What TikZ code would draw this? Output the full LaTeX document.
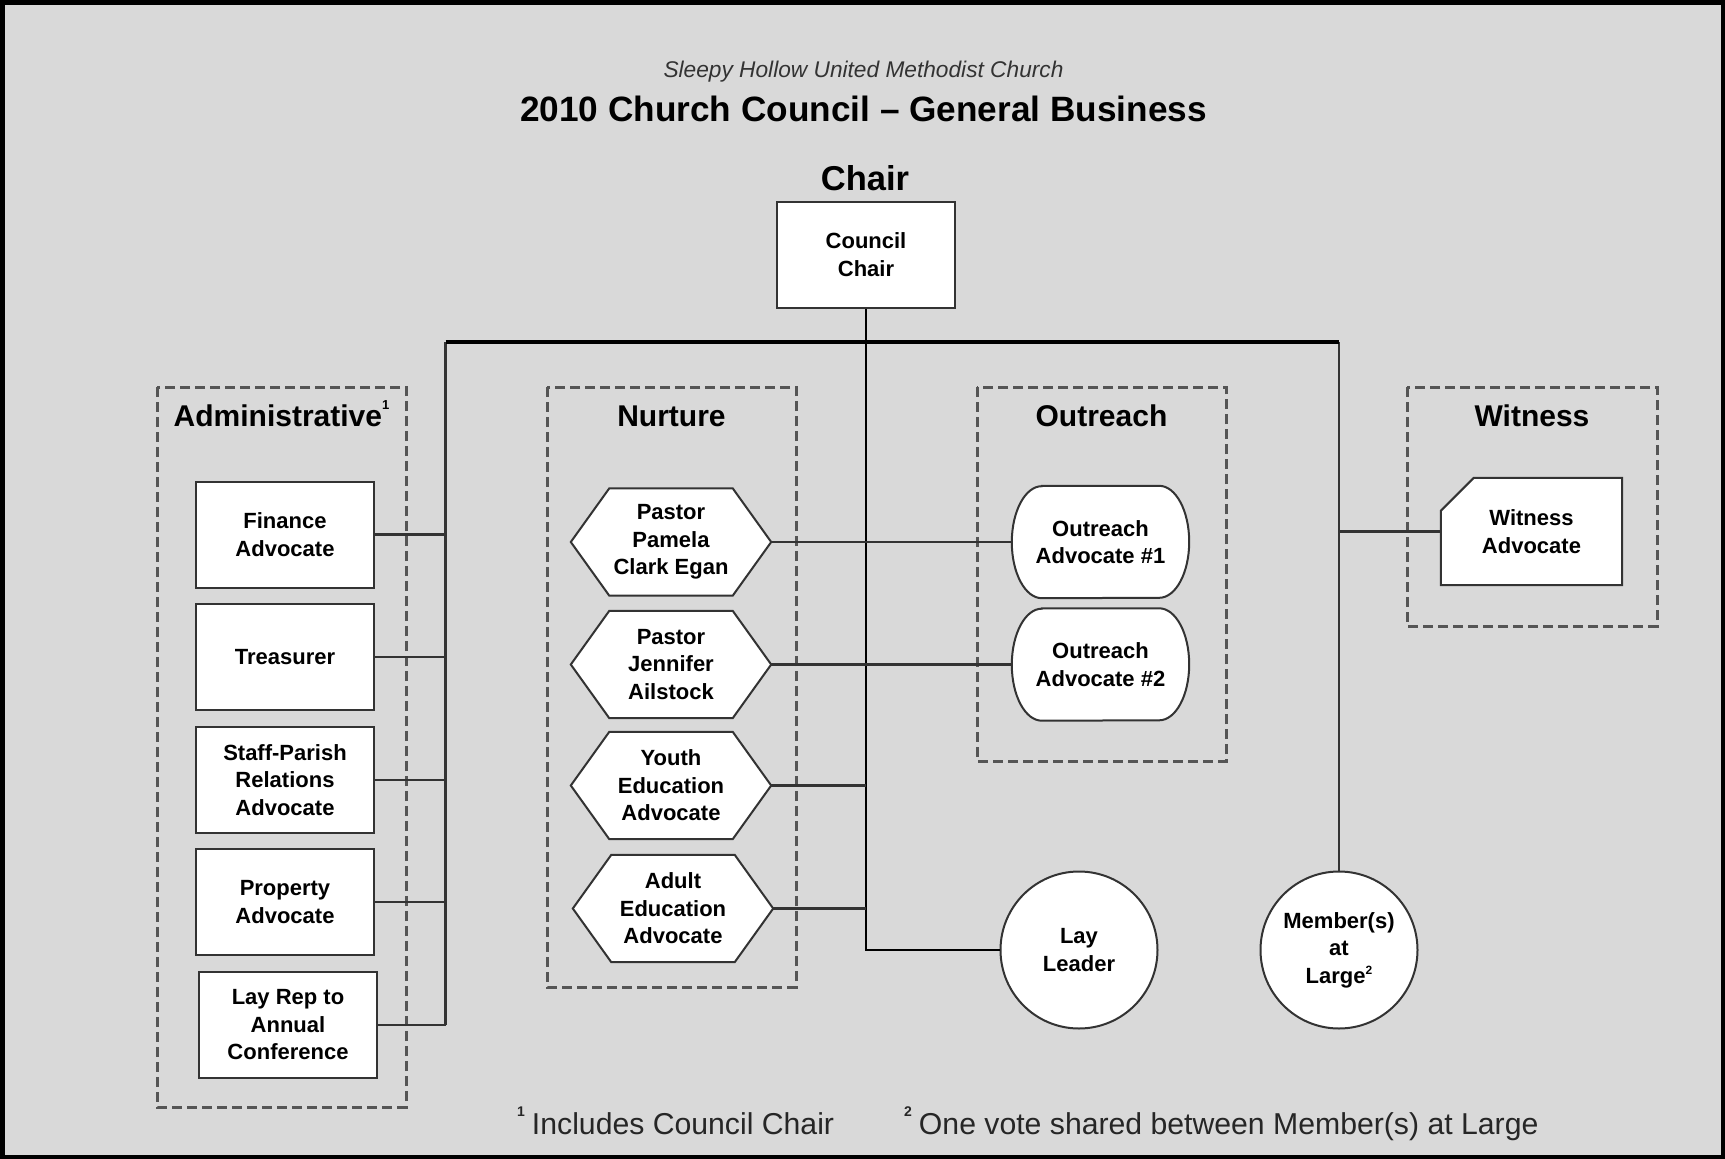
\documentclass[tikz,border=0pt]{standalone}
\usepackage{fontspec}
\setmainfont{Liberation Sans}
\usetikzlibrary{calc}
\pgfdeclarelayer{bglayer}
\pgfsetlayers{bglayer,main}
\definecolor{bggray}{HTML}{D9D9D9}
\definecolor{linegray}{HTML}{333333}
\definecolor{dashgray}{HTML}{555555}
\definecolor{subgray}{HTML}{333333}
\newcommand{\supmark}[3]{\smash{\raisebox{#1}{\fontsize{#2}{#2}\selectfont\bfseries #3}}}
\begin{document}
\begin{tikzpicture}[x=1pt,y=1pt,
  txt/.style={font=\fontsize{22}{27.5}\selectfont\bfseries, align=center, text=black},
  boxn/.style={txt, draw=linegray, line width=2pt, fill=white, minimum width=178pt, minimum height=106pt, inner sep=0pt},
  hexn/.style={txt, minimum width=200pt, minimum height=107pt, inner sep=0pt},
  outn/.style={txt, minimum width=177pt, minimum height=112pt, inner sep=0pt},
  witn/.style={txt, minimum width=181pt, minimum height=107pt, inner sep=0pt},
  circn/.style={txt, circle, draw=linegray, line width=2pt, fill=white, minimum size=157pt, inner sep=0pt},
  shapeline/.style={draw=linegray, line width=2pt, fill=white, line join=miter},
  grp/.style={draw=dashgray, line width=3pt, dash pattern=on 10pt off 5pt},
  grptitle/.style={font=\fontsize{30}{36}\selectfont\bfseries, inner sep=0pt, anchor=base},
  conn/.style={draw=linegray, line width=2.2pt},
  busline/.style={draw=black, line width=4pt},
  trunkline/.style={draw=black, line width=2.4pt},
  foot/.style={font=\fontsize{30.2}{35}\selectfont, anchor=base west, inner sep=0pt, text=black!85}
]
\useasboundingbox (0,0) rectangle (1725,-1159);
\begin{pgfonlayer}{bglayer}
  \fill[bggray] (0,0) rectangle (1725,-1159);
\end{pgfonlayer}
\draw[black, line width=4.5pt] (2.25,-2.25) rectangle (1722.75,-1156.75);

% titles
\node[font=\fontsize{22.7}{27}\selectfont\itshape, text=subgray] (sub) at (863.5,-71.5) {Sleepy Hollow United Methodist Church};
\node[font=\fontsize{35.2}{40}\selectfont\bfseries] (title) at (863.5,-109) {2010 Church Council -- General Business};
\node[font=\fontsize{34.5}{40}\selectfont\bfseries] (chairlbl) at (865,-178) {Chair};

% group boxes
\draw[grp] (157,-387) rectangle (406,-1107);
\draw[grp] (547,-387) rectangle (796,-987);
\draw[grp] (977,-387) rectangle (1226,-761);
\draw[grp] (1407,-387) rectangle (1657,-626);
\node[grptitle] (gadm) at (281.5,-426) {Administrative\supmark{17pt}{13}{1}};
\node[grptitle] (gnur) at (671.5,-426) {Nurture};
\node[grptitle] (gout) at (1101.5,-426) {Outreach};
\node[grptitle] (gwit) at (1532,-426) {Witness};

% chair
\node[boxn] (cc) at (866,-254.5) {Council\\Chair};

% administrative
\node[boxn] (fin) at (285,-534.5) {Finance\\Advocate};
\node[boxn] (tre) at (285,-657) {Treasurer};
\node[boxn] (spr) at (285,-780) {Staff-Parish\\Relations\\Advocate};
\node[boxn] (pro) at (285,-902) {Property\\Advocate};
\node[boxn] (lrep) at (288,-1025) {Lay Rep to\\Annual\\Conference};

% nurture hexagons
\node[hexn] (pam) at (671,-542) {Pastor\\Pamela\\Clark Egan};
\node[hexn] (jen) at (671,-664.5) {Pastor\\Jennifer\\Ailstock};
\node[hexn] (you) at (671,-785.5) {Youth\\Education\\Advocate};
\node[hexn] (adu) at (673,-908.5) {Adult\\Education\\Advocate};

% outreach
\node[outn] (o1) at (1100.5,-542) {Outreach\\Advocate \#1};
\node[outn] (o2) at (1100.5,-664.5) {Outreach\\Advocate \#2};

% witness
\node[witn] (wa) at (1531.5,-531.5) {Witness\\Advocate};

% circles
\node[circn] (ll) at (1079,-950) {Lay\\Leader};
\node[circn] (mal) at (1339,-950) {Member(s)\\at\\Large\supmark{9pt}{12}{2}};

% custom shapes behind text
\begin{pgfonlayer}{bglayer}
  \foreach \h in {pam,jen,you,adu}{
    \path[shapeline] ([xshift=38.5pt]\h.north west) -- ([xshift=-38.5pt]\h.north east) -- (\h.east)
      -- ([xshift=-38.5pt]\h.south east) -- ([xshift=38.5pt]\h.south west) -- (\h.west) -- cycle;
  }
  \foreach \o in {o1,o2}{
    \path[shapeline] ([xshift=30pt]\o.north west) -- ([xshift=-30pt]\o.north east)
      arc[start angle=90, end angle=-90, x radius=30pt, y radius=56pt]
      -- ([xshift=30pt]\o.south west)
      arc[start angle=270, end angle=90, x radius=30pt, y radius=56pt] -- cycle;
  }
  \path[shapeline] ([yshift=-33pt]wa.north west) -- ([xshift=33pt]wa.north west) -- (wa.north east)
      -- (wa.south east) -- (wa.south west) -- cycle;
\end{pgfonlayer}

% bus and trunk
\coordinate (busL) at (445.5,-342);
\coordinate (busR) at (1339,-342);
\coordinate (busC) at (866,-342);
\draw[conn] (busL) -- (busL |- lrep.east);
\draw[conn] (busR) -- (mal.north);
\draw[busline] (busL) -- (busR);
\draw[trunkline] (cc.south) -- (cc.south |- ll.west) -- (ll.west);

% admin connectors
\foreach \n in {fin,tre,spr,pro,lrep}{
  \draw[conn] (\n.east) -- (\n.east -| busL);
}
% nurture / outreach connectors
\draw[conn] (pam.east) -- (o1.west);
\draw[conn] (jen.east) -- (o2.west);
\draw[conn] (you.east) -- (you.east -| busC);
\draw[conn] (adu.east) -- (adu.east -| busC);
% witness
\draw[conn] (busR |- wa.west) -- (wa.west);

% footnotes
\node[foot] (f1) at (517,-1134) {\supmark{18pt}{14}{1}\hspace{7pt}Includes Council Chair};
\node[foot] (f2) at (904,-1134) {\supmark{18pt}{14}{2}\hspace{7pt}One vote shared between Member(s) at Large};
\end{tikzpicture}
\end{document}
